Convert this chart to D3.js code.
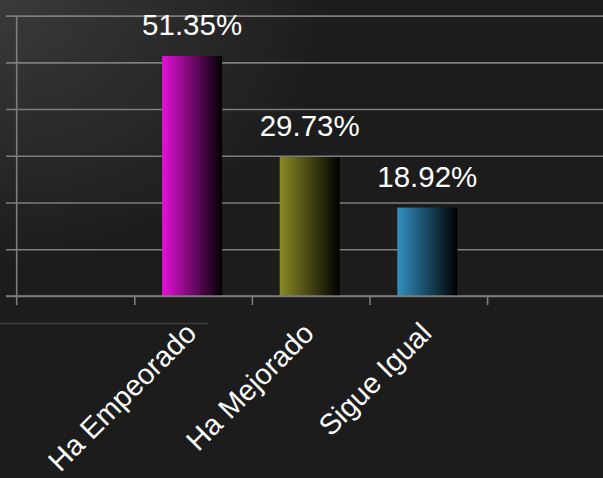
<!DOCTYPE html>
<html>
<head>
<meta charset="utf-8">
<script src="https://cdn.jsdelivr.net/npm/d3@7"></script>
<style>
  html, body { margin: 0; padding: 0; background: #1c1c1c; }
  svg { display: block; }
</style>
</head>
<body>
<svg id="chart" width="603" height="478"></svg>
<script>
// ---- data ----
const slots = ["", "Ha Empeorado", "Ha Mejorado", "Sigue Igual", " "];
const categories = ["Ha Empeorado", "Ha Mejorado", "Sigue Igual"];
const values = [51.35, 29.73, 18.92];
const valueLabels = ["51.35%", "29.73%", "18.92%"];
const yTicks = [0, 10, 20, 30, 40, 50, 60];
const barColors = ["#e412d8", "#8a8a26", "#3290c2"];

const W = 603, H = 478;
const svg = d3.select("#chart");
const defs = svg.append("defs");

// background
const bg = defs.append("radialGradient").attr("id", "bgGlow")
  .attr("cx", 0).attr("cy", 0).attr("r", 0.55).attr("gradientUnits", "objectBoundingBox");
bg.append("stop").attr("offset", "0%").attr("stop-color", "#3a3a3a");
bg.append("stop").attr("offset", "100%").attr("stop-color", "#1c1c1c");
svg.append("rect").attr("width", W).attr("height", H).attr("fill", "#1c1c1c");
svg.append("rect").attr("width", W).attr("height", H).attr("fill", "url(#bgGlow)");

// faint decorative line
svg.append("line").attr("x1", 0).attr("x2", 208).attr("y1", 323.5).attr("y2", 323.5)
  .attr("stroke", "#3a3a3a").attr("stroke-width", 1.5);

// scales
const x = d3.scaleBand().domain(slots).range([16.7, 604.7]).padding(0);
const y = d3.scaleLinear().domain([0, 60]).range([296, 15.6]);
const barW = 60;

// gradients per bar
barColors.forEach((c, i) => {
  const g = defs.append("linearGradient").attr("id", "bar" + i)
    .attr("x1", "0%").attr("x2", "100%").attr("y1", "0%").attr("y2", "0%");
  g.append("stop").attr("offset", "0%").attr("stop-color", c);
  g.append("stop").attr("offset", "100%").attr("stop-color", "#000000");
});

const gridColor = "#7d7d7d";

// horizontal gridlines via axis
const yAxis = d3.axisLeft(y).tickValues(yTicks).tickSize(-(W - 16.7)).tickFormat("");
const gy = svg.append("g").attr("transform", "translate(16.7,0)").call(yAxis);
gy.select(".domain").remove();
gy.selectAll(".tick line").attr("stroke", gridColor).attr("stroke-width", 1.6)
  .attr("x1", -10.7);

// y axis line (extends down like tick)
svg.append("line").attr("x1", 16.7).attr("x2", 16.7).attr("y1", y(60)).attr("y2", 305)
  .attr("stroke", gridColor).attr("stroke-width", 1.6);

// bars
svg.append("g").selectAll("rect").data(categories).join("rect")
  .attr("x", d => x(d) + x.bandwidth() / 2 - barW / 2 - 1)
  .attr("y", (d, i) => y(values[i]))
  .attr("width", barW)
  .attr("height", (d, i) => y(0) - y(values[i]))
  .attr("fill", (d, i) => `url(#bar${i})`);

// x axis
const xTickPos = slots.map(s => x(s)).slice(1);
const xAxis = d3.axisBottom(d3.scaleLinear().domain([16.7, 604.7]).range([16.7, 604.7]))
  .tickValues(xTickPos).tickSize(9).tickFormat("");
const gx = svg.append("g").attr("transform", "translate(0,296)").call(xAxis);
gx.select(".domain").attr("d", `M6,0H${W}`).attr("stroke", gridColor).attr("stroke-width", 1.6);
gx.selectAll(".tick line").attr("stroke", gridColor).attr("stroke-width", 1.6);

// value labels
svg.append("g").selectAll("text").data(categories).join("text")
  .attr("x", d => x(d) + x.bandwidth() / 2 - 1)
  .attr("y", (d, i) => y(values[i]) - 21)
  .attr("text-anchor", "middle")
  .attr("fill", "#ffffff")
  .attr("font-family", "'Liberation Sans', Arial, sans-serif")
  .attr("font-size", 29.5)
  .text((d, i) => valueLabels[i]);

// category labels (rotated)
svg.append("g").selectAll("text").data(categories).join("text")
  .attr("transform", d => `translate(${x(d) + x.bandwidth() / 2 + 5},335) rotate(-45)`)
  .attr("text-anchor", "end")
  .attr("fill", "#ffffff")
  .attr("font-family", "'Liberation Sans', Arial, sans-serif")
  .attr("font-size", 29)
  .text(d => d);
</script>
</body>
</html>
